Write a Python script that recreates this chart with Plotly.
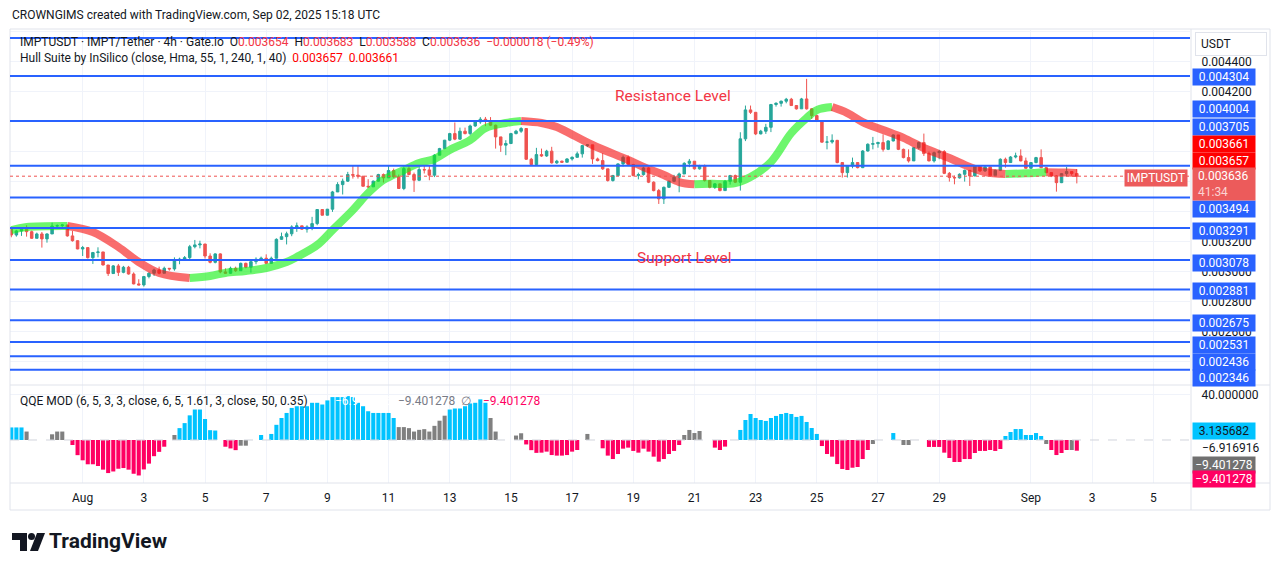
import pandas as pd
import plotly.graph_objects as go

# IMPT/USDT 4h candles, prices in millionths of a USDT (0.003636 -> 3636)
first_open = 3289
close_e6 = [
    3244, 3271, 3282, 3266, 3222, 3251, 3218, 3251, 3304, 3306,
    3311, 3238, 3206, 3151, 3160, 3093, 3127, 3131, 3044, 2987,
    3038, 2995, 3029, 2984, 2918, 2911, 2967, 2989, 3011, 2989,
    3022, 3018, 3078, 3082, 3093, 3166, 3178, 3184, 3104, 3062,
    3118, 2998, 2989, 3022, 3006, 3055, 3029, 3066, 3082, 3089,
    3055, 3089, 3215, 3233, 3252,
    3298, 3305, 3283, 3298, 3320, 3414, 3376, 3416, 3531, 3580,
    3603, 3647, 3643, 3636, 3569, 3565, 3603, 3647, 3625, 3674,
    3632, 3554, 3687, 3647, 3609, 3680, 3678, 3643, 3776, 3820,
    3876, 3920, 3883, 3936, 3920, 3971, 3998, 4016, 4003, 3976,
    3898, 3843, 3854, 3920, 3936, 3954, 3749, 3714, 3780, 3771,
    3803, 3725,
    3736, 3729, 3751, 3762, 3785, 3840, 3845, 3751, 3740, 3685,
    3607, 3640, 3718, 3762, 3714, 3640, 3647, 3691, 3596, 3540,
    3485, 3562, 3602, 3629, 3651, 3722, 3736, 3685, 3707, 3607,
    3562, 3585, 3540, 3602, 3640, 3596, 3885, 4078, 4062, 3918,
    3936, 3962, 4114, 4122, 4136, 4149, 4107, 4085, 4151, 4085,
    4040, 4007, 3863,
    3864, 3875, 3727, 3660, 3704, 3727, 3693, 3804, 3849, 3853,
    3860, 3815, 3871, 3911, 3815, 3760, 3738, 3826, 3860, 3787,
    3738, 3793, 3800, 3655, 3627, 3625, 3649, 3675, 3638, 3704,
    3671, 3698, 3640, 3675, 3749, 3727, 3764, 3771, 3738, 3689,
    3727, 3760, 3693, 3660, 3638, 3593, 3653, 3667, 3654, 3636,
]
high_e6 = [
    3293, 3278, 3291, 3309, 3273, 3260, 3264, 3255, 3326, 3315,
    3318, 3311, 3271, 3208, 3171, 3160, 3131, 3162, 3131, 3044,
    3044, 3051, 3038, 3038, 2995, 2949, 2971, 2995, 3020, 3033,
    3033, 3024, 3095, 3093, 3104, 3178, 3211, 3206, 3184, 3122,
    3122, 3122, 3022, 3033, 3033, 3060, 3060, 3082, 3095, 3100,
    3115, 3100, 3222, 3260, 3266,
    3309, 3327, 3300, 3309, 3365, 3414, 3416, 3418, 3538, 3596,
    3620, 3665, 3705, 3705, 3636, 3616, 3607, 3652, 3654, 3705,
    3687, 3647, 3698, 3705, 3660, 3700, 3705, 3705, 3783, 3825,
    3878, 3925, 3994, 3960, 3960, 3980, 4010, 4030, 4031, 4030,
    3980, 3898, 3876, 3925, 3945, 3963, 3954, 3758, 3825, 3820,
    3812, 3832,
    3745, 3740, 3756, 3768, 3800, 3845, 3850, 3845, 3760, 3790,
    3685, 3645, 3722, 3774, 3774, 3718, 3660, 3700, 3696, 3602,
    3551, 3567, 3607, 3645, 3660, 3729, 3751, 3736, 3712, 3714,
    3607, 3590, 3585, 3611, 3645, 3647, 3929, 4107, 4107, 4062,
    3945, 3985, 4118, 4129, 4140, 4158, 4158, 4110, 4158, 4285,
    4090, 4045, 4007,
    3904, 3915, 3878, 3730, 3710, 3760, 3730, 3810, 3855, 3898,
    3866, 3915, 3875, 3915, 3911, 3820, 3815, 3830, 3866, 3920,
    3800, 3800, 3812, 3810, 3664, 3640, 3655, 3680, 3675, 3710,
    3704, 3705, 3700, 3680, 3755, 3760, 3770, 3793, 3815, 3760,
    3730, 3765, 3815, 3698, 3660, 3644, 3656, 3698, 3670, 3683,
]
low_e6 = [
    3229, 3233, 3238, 3233, 3218, 3222, 3160, 3193, 3251, 3291,
    3289, 3233, 3200, 3149, 3104, 3087, 3051, 3095, 3042, 2971,
    2984, 2971, 2989, 2980, 2915, 2909, 2900, 2955, 2971, 2982,
    2993, 3006, 3006, 3049, 3071, 3078, 3155, 3155, 3087, 3055,
    3055, 2989, 2985, 2984, 2998, 3006, 3022, 2993, 3049, 3078,
    3051, 3051, 3087, 3211, 3181,
    3236, 3265, 3280, 3260, 3276, 3309, 3374, 3374, 3398, 3531,
    3514, 3598, 3620, 3620, 3567, 3558, 3565, 3600, 3594, 3625,
    3625, 3551, 3543, 3643, 3531, 3603, 3654, 3609, 3630, 3776,
    3816, 3870, 3876, 3880, 3915, 3910, 3965, 3985, 3970, 3970,
    3820, 3798, 3776, 3850, 3915, 3925, 3745, 3710, 3710, 3765,
    3765, 3720,
    3718, 3725, 3729, 3740, 3760, 3760, 3830, 3718, 3735, 3678,
    3600, 3600, 3636, 3700, 3710, 3635, 3615, 3640, 3590, 3535,
    3451, 3451, 3558, 3596, 3529, 3651, 3696, 3680, 3680, 3600,
    3555, 3551, 3535, 3540, 3580, 3590, 3540, 3870, 4051, 3910,
    3915, 3918, 3930, 4100, 4100, 4122, 4105, 4080, 4085, 4080,
    4018, 4000, 3860,
    3815, 3853, 3722, 3627, 3627, 3689, 3688, 3690, 3800, 3815,
    3826, 3800, 3810, 3868, 3810, 3755, 3727, 3738, 3815, 3771,
    3735, 3727, 3749, 3650, 3600, 3582, 3620, 3600, 3571, 3635,
    3665, 3665, 3636, 3636, 3670, 3693, 3725, 3755, 3735, 3685,
    3685, 3722, 3690, 3655, 3630, 3533, 3590, 3635, 3640, 3588,
]

# Hull Suite band read at sample candles; colour flips at the turn candles
hull_idx = [0, 3, 11, 16, 21, 25, 29, 35, 39, 42, 46, 50, 54, 56, 60, 63, 67, 70,
            73, 77, 80, 83, 86, 90, 93, 97, 100, 104, 107, 109, 114, 121, 124, 128,
            131, 134, 137, 142, 145, 149, 153, 156, 158, 161, 164, 167, 171, 175,
            179, 184, 188, 191, 195, 199, 203, 207, 209]
hull_e6 = [3277, 3297, 3304, 3264, 3164, 3064, 2991, 2957, 2971, 2991, 3004, 3024,
           3064, 3097, 3177, 3277, 3411, 3524, 3611, 3677, 3724, 3751, 3811, 3877,
           3957, 3991, 4004, 3991, 3964, 3931, 3844, 3744, 3697, 3644, 3597, 3582,
           3585, 3590, 3630, 3731, 3924, 4024, 4077, 4097, 4057, 3997, 3944, 3891,
           3824, 3757, 3697, 3664, 3651, 3655, 3662, 3660, 3657]
hull_turns = [11, 35, 100, 134, 161, 195, 203]

# drawn horizontal levels
levels_e6 = [4557, 4304, 4004, 3705, 3494, 3291, 3078, 2881, 2675, 2531, 2436, 2346]
hull_last = [3657, 3661]

# QQE MOD histogram (None = no bar); b = above upper band, r = below, g = neutral
qqe_hist = [
    11, 11, 11, 7.4, None, None, None, None, 5, 7.4, 7.4, None,
    -4.4, -13.3, -17.8, -21.3, -21.3, -22.8, -26, -29, -27.6, -25.2, -24.6, -26,
    -29.6, -31.1, -25.8, -20.7, -14.2, -10.4, -5.9, None, 4.4,
    10.4, 14.8, 21.6, 26.7, 26.7, 18.4, 8.6, 8.3, None,
    -5.9, -7.4, -8.9, -5, -5, None, None, 4.4, None,
    5.3, 13.3, 19.3, 23.7, 28.1, 29.6, 29.6, 29.6, 32.6, 32.6, 31.1, 34.7, 37.6,
    37.6, 37.6, 38.5, 37.6, 32.6, 29.6, 25.2, 23.7, 23.7, 23.7, 23.7, 19.3,
    11.3, 11.3, 10.4, 7.4, 8.9, 9.5, 7.4, 12.4, 16.9, 21.3,
    26.7, 27.6, 27.6, 29.6, 32, 32.6, 35.6, 32.6,
    19.3, 7.4, None, None, None, 3.9, 5.9, -3.9, -8.9, -11.3,
    -11.1, -10.2, -13.2, -13.7, -13.7, -13.2, -10.2, -8.8, None, 5.3, None, None,
    -7.3, -13.7, -16.7, -12.3, -7.6, -6.7, -9.6, -11.1, -7.6, -10.2, -14.6, -19,
    -16.7, -12.3, -9.6, -4.4, 4.4, 8.8, 6.1, 7.9, None, None, -6.7, -8.8, -5.8,
    None, None,
    8.8, 17.5, 22.8, 19.3, 17.5, 16.7, 19.3, 21.1, 22.8, 23.7, 22.8, 20.2, 21.1,
    15.8, 10.5, 5.3,
    -5.3, -12.3, -14.6, -21.1, -25.4, -26.3, -24.3, -23.7, -16.7, -8.8, -3.5,
    None, None, None, 6.1, None, -4.4, -4.4, None, None, None,
    -6.1, -6.1, -6.1, -11.1, -15.8, -19.3, -19.3, -16.7, -16.7, -11.4, -9.6, -9.6,
    -8.8, -9.6, -7.9,
    3.5, 7, 9.6, 9.6, 4.4, 4.4, 6.1, 3.5, -3.5, -8.8, -13.2, -11.4, -8.8, -8.8, -9.4,
]
qqe_state = ("bbbg----ggg-" "rrrrrrrrrrrrrrrrrrr" "-g" "bbbbbbbb" "-rrrgg--b-"
             "bbbbbbbbbbbbbbbbbbbbbbbbb" "gggggggggg" "bbbbbbbb" "gg---gg" "rrr"
             "rrrrrrrr" "-g--" "rrrrrrrrrrrrrrrr" "gggg--rrr--" "bbbbbbbbbbbbbbbb"
             "rrrrrrrrrr" "g---b-gg---" "rrrrrrrrrrrrrrr" "bbbbbbbb" "grrrrgr")
qqe_labels = [3.135682, -6.916916, -9.401278, -9.401278]

tick_dates = ["2025-08-01", "2025-08-03", "2025-08-05", "2025-08-07", "2025-08-09",
              "2025-08-11", "2025-08-13", "2025-08-15", "2025-08-17", "2025-08-19",
              "2025-08-21", "2025-08-23", "2025-08-25", "2025-08-27", "2025-08-29",
              "2025-09-01", "2025-09-03", "2025-09-05"]
tick_text = ["Aug", "3", "5", "7", "9", "11", "13", "15", "17", "19", "21", "23",
             "25", "27", "29", "Sep", "3", "5"]
price_ticks = [0.0044, 0.0042, 0.0032, 0.0030, 0.0028, 0.0026]
price_grid = [0.0024, 0.0026, 0.0028, 0.0030, 0.0032, 0.0034, 0.0036, 0.0038,
              0.0040, 0.0042, 0.0044, 0.0046]

# the page body keeps an 8px margin, so the figure starts at (8, 8) of the window
OFF = 8
W, H = 1265, 555


def px(x):
    return (x - OFF) / W


def py(y):
    return 1 - (y - OFF) / H


times = pd.date_range("2025-07-29 16:00", periods=len(close_e6), freq="4h")
opens = [first_open] + close_e6[:-1]
o = [v / 1e6 for v in opens]
c = [v / 1e6 for v in close_e6]
h = [max(a, b, d) / 1e6 for a, b, d in zip(high_e6, opens, close_e6)]
l = [min(a, b, d) / 1e6 for a, b, d in zip(low_e6, opens, close_e6)]

UP, DOWN = "#26a69a", "#ef5350"
BLUE = "#2962ff"
GRID = "#f0f3fa"
FRAME = "#e0e3eb"
TXT = "#131722"
FONT = "Roboto, sans-serif"

fig = go.Figure()

fig.add_trace(go.Candlestick(
    x=times, open=o, high=h, low=l, close=c,
    increasing=dict(line=dict(color=UP, width=1), fillcolor=UP),
    decreasing=dict(line=dict(color=DOWN, width=1), fillcolor=DOWN),
    whiskerwidth=0, xaxis="x", yaxis="y", hoverinfo="skip", showlegend=False))

# Hull band, split where it changes direction
bounds = [hull_idx[0]] + hull_turns + [hull_idx[-1]]
for k in range(len(bounds) - 1):
    a, b = bounds[k], bounds[k + 1]
    pts = [(i, v) for i, v in zip(hull_idx, hull_e6) if a <= i <= b]
    col = "rgba(20,240,20,0.62)" if k % 2 == 0 else "rgba(245,20,20,0.62)"
    fig.add_trace(go.Scatter(
        x=[times[i] for i, _ in pts], y=[v / 1e6 for _, v in pts], mode="lines",
        line=dict(color=col, width=8, shape="spline", smoothing=1.0),
        xaxis="x", yaxis="y", hoverinfo="skip", showlegend=False))

state_col = {"b": "#00c3ff", "r": "#ff0062", "g": "#808080", "-": "#808080"}
fig.add_trace(go.Bar(
    x=times, y=qqe_hist, marker=dict(color=[state_col[s] for s in qqe_state], line=dict(width=0)),
    xaxis="x2", yaxis="y2", hoverinfo="skip", showlegend=False))

x_range = ["2025-07-29 14:59", "2025-09-06 04:48"]
y_top, y_bot = 30, 385
p_top = (4304 + (76 - y_top) / 0.15) / 1e6
p_bot = (4304 - (y_bot - 76) / 0.15) / 1e6

fig.update_layout(
    width=W, height=H, margin=dict(l=0, r=0, t=0, b=0),
    paper_bgcolor="white", plot_bgcolor="white", showlegend=False, bargap=0.2,
    font=dict(family=FONT, size=12, color=TXT),
    xaxis=dict(domain=[px(10), px(1190)], range=x_range, type="date", anchor="y",
               rangeslider=dict(visible=False), tickvals=tick_dates, showticklabels=False,
               showgrid=True, gridcolor=GRID, zeroline=False, showline=False, ticks=""),
    yaxis=dict(domain=[py(y_bot), py(y_top)], range=[p_bot, p_top], side="right", anchor="x",
               tickvals=price_ticks, ticktext=[f"{v:.6f}" for v in price_ticks],
               showgrid=True, gridcolor=GRID,
               minor=dict(tickvals=price_grid, showgrid=True, gridcolor=GRID, ticks=""),
               ticks="outside", ticklen=8, tickcolor="rgba(0,0,0,0)", zeroline=False,
               showline=False, automargin=False),
    xaxis2=dict(domain=[px(10), px(1190)], range=x_range, type="date", anchor="y2",
                matches="x", tickvals=tick_dates, ticktext=tick_text, showgrid=True,
                gridcolor=GRID, zeroline=False, showline=False, ticks="outside",
                ticklen=4, tickcolor="rgba(0,0,0,0)", tickfont=dict(size=12, color=TXT)),
    yaxis2=dict(domain=[py(483), py(385)], range=[-37.7, 48.2], side="right", anchor="x2",
                tickvals=[40], ticktext=["40.000000"], showgrid=True, gridcolor=GRID,
                zeroline=False, showline=False, ticks="outside", ticklen=8,
                tickcolor="rgba(0,0,0,0)", automargin=False),
)

shapes = []
# frame
for x0, y0, x1, y1 in [(10, 29, 1270, 29), (10, 29, 10, 510), (1191, 29, 1191, 510),
                       (1270, 29, 1270, 510), (10, 385, 1270, 385), (10, 483, 1270, 483),
                       (10, 510, 1270, 510)]:
    shapes.append(dict(type="line", xref="paper", yref="paper", x0=px(x0), x1=px(x1),
                       y0=py(y0), y1=py(y1), line=dict(color=FRAME, width=1)))
# zero line of the oscillator
shapes.append(dict(type="line", xref="paper", yref="y2", x0=px(10), x1=px(1190), y0=0, y1=0,
                   line=dict(color="#d1d4dc", width=1, dash="dash"), layer="above"))
# drawn levels
for p in levels_e6:
    shapes.append(dict(type="line", xref="paper", yref="y", x0=px(10), x1=px(1190),
                       y0=p / 1e6, y1=p / 1e6, line=dict(color=BLUE, width=2), layer="above"))
# last price line
shapes.append(dict(type="line", xref="paper", yref="y", x0=px(10), x1=px(1190),
                   y0=c[-1], y1=c[-1], line=dict(color=DOWN, width=1, dash="dot"), layer="above"))


# TradingView mark
def path(pts):
    return "M " + " L ".join(f"{px(x)},{py(y)}" for x, y in pts) + " Z"


shapes.append(dict(type="path", xref="paper", yref="paper", line=dict(width=0), fillcolor=TXT,
                   path=path([(12, 533), (27, 533), (27, 551), (20, 551), (20, 540), (12, 540)])))
shapes.append(dict(type="circle", xref="paper", yref="paper", line=dict(width=0), fillcolor=TXT,
                   x0=px(28), x1=px(35), y0=py(533), y1=py(540)))
shapes.append(dict(type="path", xref="paper", yref="paper", line=dict(width=0), fillcolor=TXT,
                   path=path([(37, 533), (45, 533), (38, 551), (30, 551)])))
fig.update_layout(shapes=shapes)


def note(text, x, y, size=12, color=TXT, anchor="left", **kw):
    fig.add_annotation(xref="paper", yref="paper", x=px(x), y=py(y), xanchor=anchor,
                       yanchor="middle", text=text, showarrow=False,
                       font=dict(family=FONT, size=size, color=color), **kw)


def tag(text, y, bg, fg="white", x=1192, w=58, hgt=12, align="center", anchor="left"):
    note(text, x, y, color=fg, anchor=anchor, bgcolor=bg, width=w, height=hgt,
         borderpad=2, align=align)


note("CROWNGIMS created with TradingView.com, Sep 02, 2025 15:18 UTC", 10, 15)

red = "#f23645"
chg = close_e6[-1] - opens[-1]
sp = "&nbsp;"
line1 = (f"IMPTUSDT · IMPT/Tether · 4h · Gate.io{sp}{sp}"
         f"O<span style='color:{red}'>{opens[-1] / 1e6:.6f}</span>{sp}{sp}"
         f"H<span style='color:{red}'>{high_e6[-1] / 1e6:.6f}</span>{sp}{sp}"
         f"L<span style='color:{red}'>{low_e6[-1] / 1e6:.6f}</span>{sp}{sp}"
         f"C<span style='color:{red}'>{close_e6[-1] / 1e6:.6f}{sp}{sp}"
         f"−{abs(chg) / 1e6:.6f} (−{abs(chg) / opens[-1] * 100:.2f}%)</span>")
note(line1, 18, 42)
line2 = (f"Hull Suite by InSilico (close, Hma, 55, 1, 240, 1, 40){sp}{sp}"
         f"<span style='color:#ff0000'>{hull_last[0] / 1e6:.6f}</span>{sp}{sp}"
         f"<span style='color:#ff0000'>{hull_last[1] / 1e6:.6f}</span>")
note(line2, 18, 58)

note("QQE MOD (6, 5, 3, 3, close, 6, 5, 1.61, 3, close, 50, 0.35)", 18, 401)
note(f"−{abs(qqe_labels[1]):.6f}", 333, 401, color="white")
note(f"−{abs(qqe_labels[2]):.6f}", 396, 401, color="#787b86")
note("∅", 459, 401, color="#787b86")
note(f"−{abs(qqe_labels[3]):.6f}", 481, 401, color="#ff0062")

note("Resistance Level", 673, 96, size=15.5, color=red, anchor="center")
note("Support Level", 684, 258, size=15.5, color=red, anchor="center")

# right scale tags
note(f"{sp}USDT", 1195, 44, anchor="left", bgcolor="white", bordercolor=FRAME, borderwidth=1,
     width=66, height=18, borderpad=2, align="left")
label_y = [77, 109, 127, 209, 231, 262.5, 291, 322.5, 345, 361.5, 378]
for p, yy in zip(levels_e6[1:], label_y):
    tag(f"{p / 1e6:.6f}", yy, BLUE)
tag(f"{hull_last[1] / 1e6:.6f}", 144, "#ff0000")
tag(f"{hull_last[0] / 1e6:.6f}", 161, "#ff0000")
tag(f"{sp}{close_e6[-1] / 1e6:.6f}<br>{sp}<span style='color:#fbd3d3'>41:34</span>",
    184, "#ec5b5b", hgt=28, align="left")
tag("IMPTUSDT", 178, "#ec5b5b", x=1188, w=58, anchor="right")

tag(f"{qqe_labels[0]:.6f}", 431, "#00c3ff", fg=TXT)
note(f"−{abs(qqe_labels[1]):.6f}", 1200, 448)
tag(f"−{abs(qqe_labels[2]):.6f}", 465, "#707070")
tag(f"−{abs(qqe_labels[3]):.6f}", 479, "#ff0062")

note("<b>TradingView</b>", 47, 541, size=21)

fig.write_html("out.html")
